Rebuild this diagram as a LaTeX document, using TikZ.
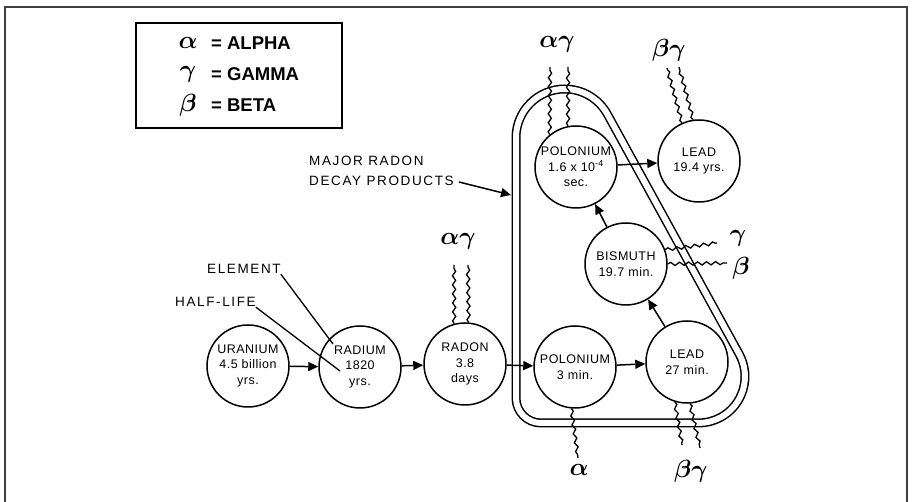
\documentclass[tikz,border=0pt]{standalone}
\usepackage{fontspec}
\setmainfont{Liberation Sans}
\newfontfamily\lblfont[LetterSpace=12]{Liberation Sans}
\newfontfamily\circfont[LetterSpace=4]{Liberation Sans}
\usetikzlibrary{arrows.meta,decorations.pathmorphing}
\begin{document}
\begin{tikzpicture}[x=1pt,y=1pt,
  elem/.style={circle,draw,line width=1.5pt,minimum size=82pt,inner sep=0pt,align=center,font=\fontsize{12.5}{15.5}\selectfont\circfont},
  flow/.style={-{Triangle[length=10pt,width=9pt]},line width=1.5pt},
  ray/.style={line width=1.3pt,decorate,decoration={snake,segment length=9pt,amplitude=1.6pt}},
  greek/.style={font=\fontsize{28}{28}\selectfont\boldmath, inner sep=0pt},
  lbl/.style={font=\fontsize{13.5}{20}\selectfont\lblfont, inner sep=0pt, align=left},
  legtxt/.style={font=\fontsize{18.5}{20}\selectfont\bfseries, inner sep=0pt, anchor=west},
  loopline/.style={double, double distance=6pt, line width=1.5pt},
  leader/.style={line width=1.3pt}
]
\useasboundingbox (0,0) rectangle (915,502);
\draw[line width=2pt, black!75] (5,0) -- (5,495) -- (907,495) -- (907,0);

% legend
\node[draw, line width=1.8pt, minimum width=206pt, minimum height=105pt, inner sep=0pt] (legend) at (239,426.5) {};
\node[greek] (la) at (188,459) {$\alpha$};
\node[greek] (lg) at (188,428) {$\gamma$};
\node[greek] (lb) at (188,397) {$\beta$};
\node[legtxt] (ta) at (211,459) {= ALPHA};
\node[legtxt] (tg) at (211,428) {= GAMMA};
\node[legtxt] (tb) at (211,397) {= BETA};

% decay products loop
\draw[loopline] (516,104) -- (516,364.3) arc[start angle=180, end angle=28.8, radius=48.7pt]
  -- (739.2,147.9) arc[start angle=28.8, end angle=-90, radius=46.5pt]
  -- (541,79) arc[start angle=270, end angle=180, radius=25pt] -- cycle;

% elements
\node[elem] (U)   at (248,136) {URANIUM\\4.5 billion\\yrs.};
\node[elem] (Ra)  at (360,135) {RADIUM\\1820\\yrs.};
\node[elem] (Rn)  at (465,138) {RADON\\3.8\\days};
\node[elem] (Po1) at (575,135) {POLONIUM\\3 min.};
\node[elem] (Pb1) at (687,140) {LEAD\\27 min.};
\node[elem] (Bi)  at (626,238) {BISMUTH\\19.7 min.};
\node[elem] (Po2) at (576,335) {POLONIUM\\1.6 x 10\textsuperscript{-4}\\sec.};
\node[elem] (Pb2) at (699,341) {LEAD\\19.4 yrs.};

% decay arrows
\draw[flow] (U) -- (Ra);
\draw[flow] (Ra) -- (Rn);
\draw[flow] (Rn) -- (Po1);
\draw[flow] (Po1) -- (Pb1);
\draw[flow] (Pb1) -- (Bi);
\draw[flow] (Bi) -- (Po2);
\draw[flow] (Po2) -- (Pb2);

% radiation (wavy lines)
\coordinate (rnA) at (454,237); \coordinate (rnB) at (468,237);
\draw[ray] (Rn.105) -- (rnA); \draw[ray] (Rn.85) -- (rnB);
\coordinate (poA) at (550,435); \coordinate (poB) at (568,435);
\draw[ray] (Po2.129) -- (poA); \draw[ray] (Po2.101) -- (poB);
\coordinate (pbA) at (667,434); \coordinate (pbB) at (679,435);
\draw[ray] (Pb2.114) -- (pbA); \draw[ray] (Pb2.98) -- (pbB);
\coordinate (biA) at (717,259); \coordinate (biB) at (727,239);
\draw[ray] (Bi.20) -- (biA); \draw[ray] (Bi.0) -- (biB);
\coordinate (p1A) at (578,44);
\draw[ray] (Po1.265) -- (p1A);
\coordinate (b1A) at (682,57); \coordinate (b1B) at (700,54);
\draw[ray] (Pb1.253) -- (b1A); \draw[ray] (Pb1.274) -- (b1B);

% radiation labels
\node[greek] (gRn)  at (458,261) {$\alpha\gamma$};
\node[greek] (gPo2) at (557,458) {$\alpha\gamma$};
\node[greek] (gPb2) at (669,452) {$\beta\gamma$};
\node[greek] (gBi1) at (738,264) {$\gamma$};
\node[greek] (gBi2) at (741,234) {$\beta$};
\node[greek] (gPo1) at (579,32) {$\alpha$};
\node[greek] (gPb1) at (691,31) {$\beta\gamma$};

% annotations
\node[lbl, anchor=base west] (elemlbl) at (207,228) {ELEMENT};
\node[lbl, anchor=base west] (halflbl) at (175,195) {HALF-LIFE};
\coordinate (elemEnd) at (333,158);
\coordinate (halfEnd) at (340,131);
\draw[leader] (elemlbl.south east) -- (elemEnd);
\draw[leader] (halflbl.south east) -- (halfEnd);

\node[lbl, anchor=west] (major) at (309,331) {MAJOR RADON\\DECAY PRODUCTS};
\coordinate (loopL) at (511,307);
\draw[flow] ([shift={(5pt,4pt)}]major.south east) -- (loopL);
\end{tikzpicture}
\end{document}
